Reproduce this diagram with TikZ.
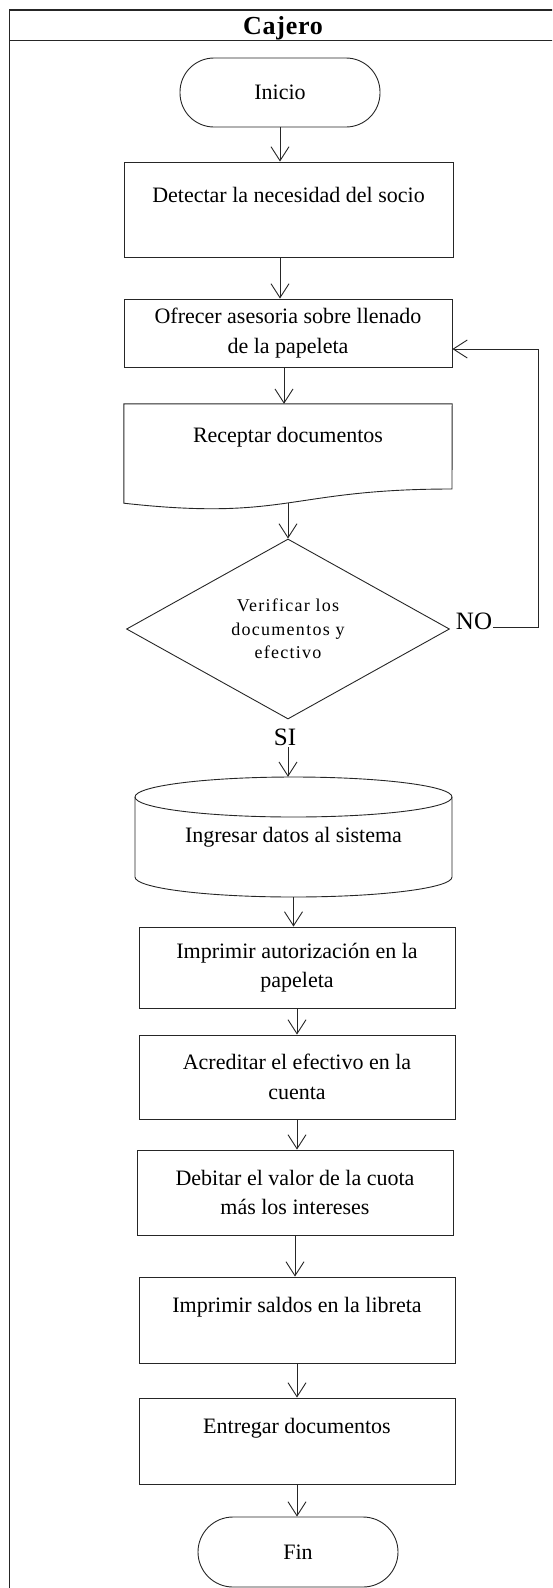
\documentclass[tikz,border=0pt]{standalone}
\usepackage{fontspec}
\setmainfont{Liberation Serif}
\newfontfamily\espaciada[LetterSpace=7]{Liberation Serif}
\newfontfamily\titulo[LetterSpace=3]{Liberation Serif}
\usetikzlibrary{arrows.meta, positioning, shapes.geometric}

\tikzset{
  linea/.style={draw=black!85, line width=0.9pt},
  flecha/.style={linea, -{Straight Barb[length=14pt, width=18pt]}},
  texto/.style={align=center, inner sep=0pt, font=\fontsize{22}{29.5}\selectfont},
  proceso/.style={texto, linea, rectangle, minimum width=316pt},
  terminal/.style={texto, linea, rectangle, rounded corners=34pt, minimum width=200pt, minimum height=69pt},
  decision/.style={linea, diamond, aspect=1.8, inner sep=0pt, minimum width=323pt, minimum height=180pt,
    align=center, font=\espaciada\fontsize{18}{23.5}\selectfont},
  etiqueta/.style={inner sep=1pt, font=\fontsize{25}{28}\selectfont}
}

\begin{document}
\begin{tikzpicture}[x=1pt, y=-1pt]
  \clip (0,0) rectangle (552,1588);

  % Carril
  \draw[black!85, line width=1.2pt] (9.5,10) rectangle (620,1650);
  \draw[black!85, line width=1.2pt] (9.5,40.5) -- (620,40.5);
  \node[anchor=base, inner sep=0pt, font=\titulo\bfseries\fontsize{26}{28}\selectfont] (cajero) at (283,34.5) {Cajero};

  % Nodos
  \node[terminal] (inicio) at (280,92.5) {Inicio};
  \node[proceso, minimum width=329pt, minimum height=95pt] (detectar) at (288.5,209.5) {Detectar la necesidad del socio\\ \mbox{}};
  \node[proceso, minimum width=328pt, minimum height=68pt] (ofrecer) at (288,333) {Ofrecer asesoria sobre llenado\\de la papeleta};
  \node[texto, minimum width=328pt, minimum height=99pt] (receptar) at (288,453.5) {Receptar documentos\\[8pt] \mbox{}};
  \draw[linea] (receptar.north west) -- (receptar.north east) -- (452,489)
    .. controls (288,489) and (288,521.4) .. (receptar.south west) -- cycle;
  \node[decision] (verificar) at (288,629) {Verificar los\\documentos y\\efectivo};
  \node[etiqueta] (no) at (474,621.5) {NO};
  \node[etiqueta] (si) at (285,737.5) {SI};
  \coordinate (retorno) at (538,349);

  \node[texto, minimum width=317pt, minimum height=120pt] (ingresar) at (293.5,837) {Ingresar datos al sistema};
  \draw[linea] (135,797) -- (135,877) arc[start angle=180, end angle=360, x radius=158.5pt, y radius=20pt] -- (452,797);
  \draw[linea] (293.5,797) ellipse [x radius=158.5pt, y radius=20pt];

  \node[proceso, minimum height=81pt] (autorizacion) at (297,967.5) {Imprimir autorización en la\\papeleta};
  \node[proceso, minimum height=84pt] (acreditar) at (297,1077) {Acreditar el efectivo en la\\cuenta};
  \node[proceso, minimum height=85pt] (debitar) at (295,1192.5) {Debitar el valor de la cuota\\más los intereses};
  \node[proceso, minimum height=86pt] (saldos) at (297,1320) {Imprimir saldos en la libreta\\ \mbox{}};
  \node[proceso, minimum height=86pt] (entregar) at (297,1441) {Entregar documentos\\ \mbox{}};
  \node[terminal, minimum height=70pt, rounded corners=35pt] (fin) at (298,1552) {Fin};

  % Flujo
  \draw[flecha] (inicio) -- (inicio |- detectar.north);
  \draw[flecha] (inicio |- detectar.south) -- (inicio |- ofrecer.north);
  \draw[flecha] ([xshift=-4pt]ofrecer.south) -- ([xshift=-4pt]ofrecer.south |- receptar.north);
  \draw[flecha] (receptar.south) -- (verificar.north);
  \draw[flecha] (no.mid east) -| (retorno) -- (ofrecer.east |- retorno);
  \draw[flecha] (verificar |- si.south) -- (verificar |- ingresar.north);
  \draw[flecha] (ingresar.south) -- (ingresar.south |- autorizacion.north);
  \draw[flecha] (autorizacion.south) -- (autorizacion.south |- acreditar.north);
  \draw[flecha] (acreditar.south) -- (acreditar.south |- debitar.north);
  \draw[flecha] (debitar.south) -- (debitar.south |- saldos.north);
  \draw[flecha] (saldos.south) -- (saldos.south |- entregar.north);
  \draw[flecha] (entregar.south) -- (entregar.south |- fin.north);
\end{tikzpicture}
\end{document}
